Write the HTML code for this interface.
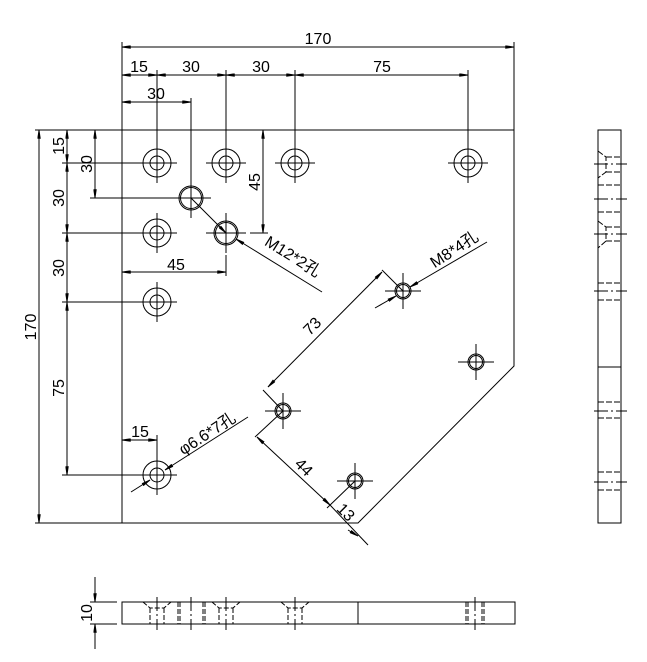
<!DOCTYPE html>
<html><head><meta charset="utf-8"><style>
html,body{margin:0;padding:0;background:#fff;}
svg{display:block;}
text{font-family:"Liberation Sans","Noto Sans CJK SC",sans-serif;font-size:16px;fill:#000;}
</style></head><body>
<svg width="647" height="662" viewBox="0 0 647 662" xmlns="http://www.w3.org/2000/svg">
<defs>
<marker id="a" viewBox="0 0 10 4" refX="10" refY="2" markerWidth="9" markerHeight="3.5" markerUnits="userSpaceOnUse" orient="auto-start-reverse"><path d="M0,0 L10,1.5 L10,2.5 L0,4 Z" fill="#000"/></marker>
</defs>
<g stroke="#000" stroke-width="1" fill="none">
<path d="M122,130 H514 V366 L358,523 H122 Z"/>
<line x1="122" y1="42" x2="122" y2="130"/>
<line x1="514" y1="42" x2="514" y2="130"/>
<line x1="157" y1="70" x2="157" y2="150"/>
<line x1="226" y1="70" x2="226" y2="150"/>
<line x1="295" y1="70" x2="295" y2="150"/>
<line x1="468" y1="70" x2="468" y2="150"/>
<line x1="191" y1="98" x2="191" y2="185"/>
<line x1="35" y1="130" x2="122" y2="130"/>
<line x1="35" y1="523" x2="122" y2="523"/>
<line x1="62" y1="163" x2="137" y2="163"/>
<line x1="62" y1="233" x2="137" y2="233"/>
<line x1="62" y1="302" x2="137" y2="302"/>
<line x1="62" y1="475" x2="137" y2="475"/>
<line x1="90" y1="198" x2="171" y2="198"/>
<line x1="250" y1="233" x2="268" y2="233"/>
<line x1="226" y1="255" x2="226" y2="276"/>
<line x1="157" y1="435" x2="157" y2="460"/>
<line x1="122" y1="47" x2="514" y2="47" marker-start="url(#a)" marker-end="url(#a)"/>
<line x1="122" y1="75" x2="157" y2="75" marker-start="url(#a)" marker-end="url(#a)"/>
<line x1="157" y1="75" x2="226" y2="75" marker-start="url(#a)" marker-end="url(#a)"/>
<line x1="226" y1="75" x2="295" y2="75" marker-start="url(#a)" marker-end="url(#a)"/>
<line x1="295" y1="75" x2="468" y2="75" marker-start="url(#a)" marker-end="url(#a)"/>
<line x1="122" y1="102" x2="191" y2="102" marker-start="url(#a)" marker-end="url(#a)"/>
<line x1="39" y1="130" x2="39" y2="523" marker-start="url(#a)" marker-end="url(#a)"/>
<line x1="67" y1="130" x2="67" y2="163" marker-start="url(#a)" marker-end="url(#a)"/>
<line x1="67" y1="163" x2="67" y2="233" marker-start="url(#a)" marker-end="url(#a)"/>
<line x1="67" y1="233" x2="67" y2="302" marker-start="url(#a)" marker-end="url(#a)"/>
<line x1="67" y1="302" x2="67" y2="475" marker-start="url(#a)" marker-end="url(#a)"/>
<line x1="95" y1="130" x2="95" y2="198" marker-start="url(#a)" marker-end="url(#a)"/>
<line x1="263" y1="130" x2="263" y2="233" marker-start="url(#a)" marker-end="url(#a)"/>
<line x1="122" y1="272" x2="226" y2="272" marker-start="url(#a)" marker-end="url(#a)"/>
<line x1="122" y1="440" x2="157" y2="440" marker-start="url(#a)" marker-end="url(#a)"/>
<line x1="191" y1="198" x2="226" y2="233" marker-end="url(#a)"/>
<line x1="322" y1="292" x2="236" y2="239" marker-end="url(#a)"/>
<line x1="131" y1="492" x2="150" y2="480" marker-end="url(#a)"/>
<line x1="248" y1="417" x2="165" y2="470" marker-end="url(#a)"/>
<line x1="375" y1="308" x2="396" y2="296" marker-end="url(#a)"/>
<line x1="487" y1="242" x2="410" y2="287" marker-end="url(#a)"/>
<line x1="382" y1="272" x2="268" y2="387" marker-start="url(#a)" marker-end="url(#a)"/>
<line x1="263" y1="390" x2="283" y2="411"/>
<line x1="382" y1="270" x2="403" y2="291"/>
<line x1="257" y1="437" x2="330" y2="505" marker-start="url(#a)" marker-end="url(#a)"/>
<line x1="255" y1="437" x2="283" y2="411"/>
<line x1="327" y1="508" x2="355" y2="481"/>
<line x1="330" y1="505" x2="368" y2="545"/>
<line x1="348" y1="530" x2="358" y2="536" marker-end="url(#a)"/>
<g id="h1">
<circle cx="157" cy="163" r="14"/><circle cx="157" cy="163" r="7"/>
<line x1="137" y1="163" x2="177" y2="163"/><line x1="157" y1="143" x2="157" y2="183"/></g>
<use href="#h1" x="69"/><use href="#h1" x="138"/><use href="#h1" x="311"/>
<use href="#h1" y="70"/><use href="#h1" y="139"/><use href="#h1" y="312"/>
<g id="m12"><circle cx="191" cy="198" r="12"/><circle cx="191" cy="198" r="10.5"/>
<line x1="171" y1="198" x2="211" y2="198"/><line x1="191" y1="178" x2="191" y2="218"/></g>
<use href="#m12" x="35" y="35"/>
<g id="s"><circle cx="403" cy="291" r="8"/><circle cx="403" cy="291" r="6.5"/>
<line x1="385" y1="291" x2="421" y2="291"/><line x1="403" y1="273" x2="403" y2="309"/></g>
<use href="#s" x="73" y="71"/><use href="#s" x="-120" y="120"/><use href="#s" x="-48" y="190"/>
<!-- side view -->
<rect x="598" y="130" width="23" height="393"/>
<line x1="598" y1="367" x2="621" y2="367"/>
<g stroke-dasharray="14,3,2,3">
<line x1="594" y1="164" x2="627" y2="164"/><line x1="594" y1="199" x2="627" y2="199"/>
<line x1="594" y1="234" x2="627" y2="234"/><line x1="594" y1="291" x2="627" y2="291"/>
<line x1="594" y1="411" x2="627" y2="411"/><line x1="594" y1="482" x2="627" y2="482"/>
</g>
<g stroke-dasharray="6,2">
<line x1="606" y1="157" x2="621" y2="157"/><line x1="606" y1="172" x2="621" y2="172"/>
<line x1="606" y1="227" x2="621" y2="227"/><line x1="606" y1="241" x2="621" y2="241"/>
<line x1="598" y1="185" x2="621" y2="185"/><line x1="598" y1="212" x2="621" y2="212"/>
<line x1="598" y1="283" x2="621" y2="283"/><line x1="598" y1="300" x2="621" y2="300"/>
<line x1="598" y1="402" x2="621" y2="402"/><line x1="598" y1="418" x2="621" y2="418"/>
<line x1="598" y1="472" x2="621" y2="472"/><line x1="598" y1="490" x2="621" y2="490"/>
<path d="M598,151 L606,157 V172 L598,178"/><path d="M598,221 L606,227 V241 L598,248"/>
</g>
<!-- bottom view -->
<rect x="122" y="602" width="393" height="22"/>
<line x1="358" y1="602" x2="358" y2="624"/>
<line x1="90" y1="602" x2="117" y2="602"/><line x1="90" y1="624" x2="117" y2="624"/>
<line x1="95" y1="577" x2="95" y2="602" marker-end="url(#a)"/>
<line x1="95" y1="649" x2="95" y2="624" marker-end="url(#a)"/>
<g stroke-dasharray="14,3,2,3">
<line x1="157" y1="597" x2="157" y2="630"/><line x1="191" y1="597" x2="191" y2="630"/>
<line x1="226" y1="597" x2="226" y2="630"/><line x1="295" y1="597" x2="295" y2="630"/>
<line x1="475" y1="597" x2="475" y2="630"/>
</g>
<g stroke-dasharray="5,2">
<path d="M143,602 L150,608 H164 L171,602"/><path d="M212,602 L219,608 H233 L240,602"/><path d="M281,602 L288,608 H302 L309,602"/>
<line x1="150" y1="608" x2="150" y2="624"/><line x1="164" y1="608" x2="164" y2="624"/>
<line x1="219" y1="608" x2="219" y2="624"/><line x1="233" y1="608" x2="233" y2="624"/>
<line x1="288" y1="608" x2="288" y2="624"/><line x1="302" y1="608" x2="302" y2="624"/>
<line x1="178" y1="602" x2="178" y2="624"/><line x1="180" y1="602" x2="180" y2="624"/>
<line x1="203" y1="602" x2="203" y2="624"/><line x1="205" y1="602" x2="205" y2="624"/>
<line x1="466" y1="602" x2="466" y2="624"/><line x1="468" y1="602" x2="468" y2="624"/>
<line x1="482" y1="602" x2="482" y2="624"/><line x1="484" y1="602" x2="484" y2="624"/>
</g>
</g>
<text x="318" y="44" text-anchor="middle">170</text>
<text x="139" y="72" text-anchor="middle">15</text>
<text x="191" y="72" text-anchor="middle">30</text>
<text x="261" y="72" text-anchor="middle">30</text>
<text x="382" y="72" text-anchor="middle">75</text>
<text x="156" y="99" text-anchor="middle">30</text>
<text x="176" y="270" text-anchor="middle">45</text>
<text x="140" y="437" text-anchor="middle">15</text>
<text transform="translate(36,327) rotate(-90)" text-anchor="middle">170</text>
<text transform="translate(64,146) rotate(-90)" text-anchor="middle">15</text>
<text transform="translate(64,198) rotate(-90)" text-anchor="middle">30</text>
<text transform="translate(64,268) rotate(-90)" text-anchor="middle">30</text>
<text transform="translate(64,388) rotate(-90)" text-anchor="middle">75</text>
<text transform="translate(92,164) rotate(-90)" text-anchor="middle">30</text>
<text transform="translate(260,182) rotate(-90)" text-anchor="middle">45</text>
<text transform="translate(92,613) rotate(-90)" text-anchor="middle">10</text>
<text transform="translate(290,261) rotate(32)" text-anchor="middle">M12*2孔</text>
<text transform="translate(210,438) rotate(-33)" text-anchor="middle">φ6.6*7孔</text>
<text transform="translate(457,254) rotate(-33)" text-anchor="middle">M8*4孔</text>
<text transform="translate(316,330) rotate(-45)" text-anchor="middle">73</text>
<text transform="translate(300,471) rotate(45)" text-anchor="middle">44</text>
<text transform="translate(342,516) rotate(45)" text-anchor="middle">13</text>
</svg>
</body></html>
